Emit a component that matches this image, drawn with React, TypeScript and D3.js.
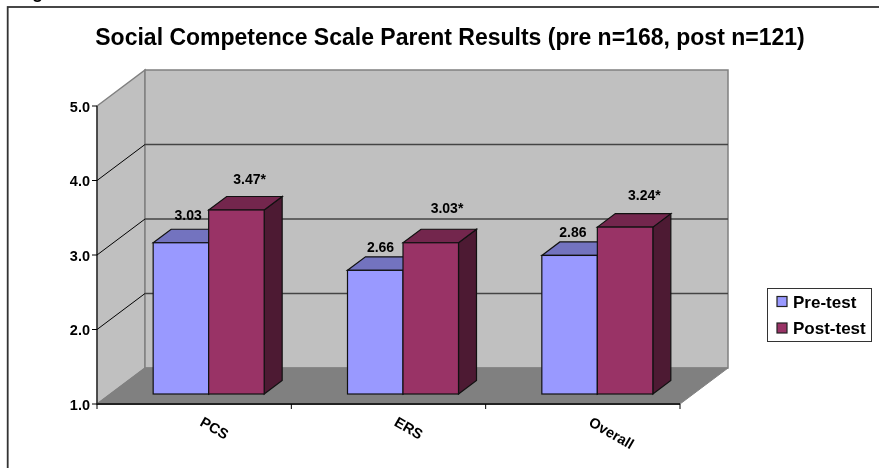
import * as d3 from 'd3'

const categories = ['PCS', 'ERS', 'Overall']
const seriesNames = ['Pre-test', 'Post-test']
const preValues = [3.03, 2.66, 2.86]
const postValues = [3.47, 3.03, 3.24]
const preLabels = ['3.03', '2.66', '2.86']
const postLabels = ['3.47*', '3.03*', '3.24*']
const yTicks = [1, 2, 3, 4, 5]

const W = 879
const H = 468
const FONT = '"Liberation Sans", Arial, sans-serif'

// front plane of the 3D box, the back wall is shifted by DX/DY
const DX = 48
const DY = -36
const BAR_DX = 18
const BAR_DY = -13.5
const BAR_BASE_X = 14.5
const BAR_BASE_Y = -10

// the data labels were dragged by hand in the original, offsets from bar front top-left
const preNudge = [[35, -23], [33, -18], [31, -18]]
const postNudge = [[41, -26], [44, -30], [47, -27]]

const x = d3.scaleBand().domain(categories).range([97, 680])
const inner = d3.scaleBand().domain(seriesNames).range([0, 111])
const y = d3.scaleLinear().domain([1, 5]).range([404, 106])

const colors = {
  'Pre-test': { front: '#9999ff', top: '#7373bf', side: '#4d4d80' },
  'Post-test': { front: '#993366', top: '#73264d', side: '#4d1a33' },
}

const barLeft = (cat, name) => x(cat) + (x.bandwidth() - 111) / 2 + BAR_BASE_X + inner(name)
const barTop = value => y(value) + BAR_BASE_Y

function Bar({ cat, name, value, barW }) {
  const c = colors[name]
  const x0 = barLeft(cat, name)
  const x1 = x0 + barW
  const yb = y(1) + BAR_BASE_Y
  const yt = barTop(value)
  const top = `M${x0},${yt}L${x0 + BAR_DX},${yt + BAR_DY}L${x1 + BAR_DX},${yt + BAR_DY}L${x1},${yt}Z`
  const side = `M${x1},${yt}L${x1 + BAR_DX},${yt + BAR_DY}L${x1 + BAR_DX},${yb + BAR_DY}L${x1},${yb}Z`
  return (
    <g stroke="#111" strokeWidth={1.2}>
      <path d={side} fill={c.side} />
      <path d={top} fill={c.top} />
      <rect x={x0} y={yt} width={barW} height={yb - yt} fill={c.front} />
    </g>
  )
}

export default function App() {
  const [x0, x1] = x.range()
  const yBottom = y(1)
  const yTop = y(5)
  const barW = inner.bandwidth()
  const catEdges = [...categories.map(c => x(c)), x1]

  return (
    <svg
      width={W}
      height={H}
      style={{ position: 'fixed', left: 0, top: 0, display: 'block', fontFamily: FONT }}
    >
      <rect x={0} y={0} width={W} height={H} fill="#fff" />
      <text x={16} y={-2.3} fontSize={18} fontWeight="700" fill="#000">Figure</text>
      <rect x={7.7} y={7} width={900} height={500} fill="#fff" stroke="#333" strokeWidth={1.8} />

      <text x={450} y={45} textAnchor="middle" fontSize={23} fontWeight="700" fill="#000">
        Social Competence Scale Parent Results (pre n=168, post n=121)
      </text>

      {/* walls and floor */}
      <path
        d={`M${x0},${yBottom}L${x0},${yTop}L${x0 + DX},${yTop + DY}L${x0 + DX},${yBottom + DY}Z`}
        fill="#c0c0c0"
        stroke="#808080"
        strokeWidth={1.5}
      />
      <rect
        x={x0 + DX}
        y={yTop + DY}
        width={x1 - x0}
        height={yBottom - yTop}
        fill="#c0c0c0"
        stroke="#808080"
        strokeWidth={1.5}
      />
      <path
        d={`M${x0},${yBottom}L${x0 + DX},${yBottom + DY}L${x1 + DX},${yBottom + DY}L${x1},${yBottom}Z`}
        fill="#808080"
        stroke="#808080"
      />

      {/* gridlines */}
      {yTicks.slice(1, 4).map(t => (
        <g key={t} fill="none">
          <path d={`M${x0},${y(t)}L${x0 + DX},${y(t) + DY}`} stroke="#000" />
          <path d={`M${x0 + DX},${y(t) + DY}L${x1 + DX},${y(t) + DY}`} stroke="#444" strokeWidth={1.5} />
        </g>
      ))}

      {/* axes */}
      <line x1={x0} x2={x0} y1={yTop} y2={yBottom} stroke="#000" />
      <line x1={x0} x2={x1} y1={yBottom} y2={yBottom} stroke="#222" strokeWidth={2} />
      {yTicks.map(t => (
        <g key={t}>
          <line x1={x0 - 5} x2={x0} y1={y(t)} y2={y(t)} stroke="#000" />
          <text x={x0 - 7} y={y(t) + 5.5} textAnchor="end" fontSize={14.5} fontWeight="700" fill="#000">
            {t.toFixed(1)}
          </text>
        </g>
      ))}
      {catEdges.map((e, i) => (
        <line key={i} x1={e} x2={e} y1={yBottom} y2={yBottom + 5} stroke="#000" />
      ))}
      {categories.map(c => (
        <text
          key={c}
          fontSize={14.5}
          fontWeight="700"
          fill="#000"
          transform={`translate(${x(c) + 102},${yBottom + 21}) rotate(30)`}
        >
          {c}
        </text>
      ))}

      {/* bars */}
      {categories.map((c, i) => (
        <g key={c}>
          <Bar cat={c} name={seriesNames[0]} value={preValues[i]} barW={barW} />
          <Bar cat={c} name={seriesNames[1]} value={postValues[i]} barW={barW} />
        </g>
      ))}

      {/* value labels */}
      {categories.map((c, i) => (
        <g key={c} fontSize={14} fontWeight="700" fill="#000" textAnchor="middle">
          <text x={barLeft(c, seriesNames[0]) + preNudge[i][0]} y={barTop(preValues[i]) + preNudge[i][1]}>
            {preLabels[i]}
          </text>
          <text x={barLeft(c, seriesNames[1]) + postNudge[i][0]} y={barTop(postValues[i]) + postNudge[i][1]}>
            {postLabels[i]}
          </text>
        </g>
      ))}

      {/* legend */}
      <rect x={767.5} y={288.5} width={104} height={53} fill="#fff" stroke="#333" />
      {seriesNames.map((n, i) => (
        <g key={n}>
          <rect x={777} y={296.5 + i * 26.5} width={10} height={10} fill={colors[n].front} stroke="#222" strokeWidth={1.2} />
          <text x={793} y={308 + i * 26} fontSize={17} fontWeight="700" fill="#000">{n}</text>
        </g>
      ))}
    </svg>
  )
}
